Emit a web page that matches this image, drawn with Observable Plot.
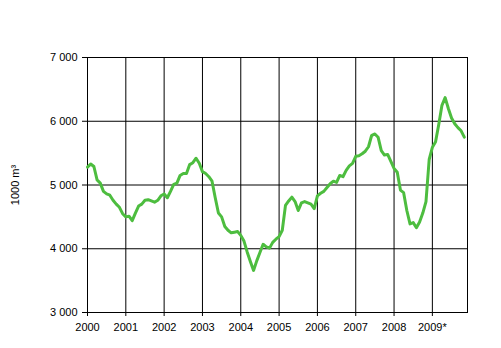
<!DOCTYPE html>
<html>
<head>
<meta charset="utf-8">
<script src="https://cdn.jsdelivr.net/npm/d3@7"></script>
<script src="https://cdn.jsdelivr.net/npm/@observablehq/plot@0.6"></script>
<style>
  html, body { margin: 0; padding: 0; background: #fff; }
  svg { display: block; }
</style>
</head>
<body>
<div id="chart"></div>
<script>
const startYear = 2000;
const yearTicks = [2000, 2001, 2002, 2003, 2004, 2005, 2006, 2007, 2008, 2009];
const yearLabels = ["2000", "2001", "2002", "2003", "2004", "2005", "2006", "2007", "2008", "2009*"];
const yTicks = [3000, 4000, 5000, 6000, 7000];
const yLabel = "1000 m³";
// Monthly values, Jan 2000 – Nov 2009 (1000 m3)
const values = [
  5280, 5330, 5290, 5080, 5030, 4900, 4860, 4840, 4760, 4700, 4650, 4550,
  4500, 4510, 4440, 4560, 4670, 4700, 4760, 4770, 4750, 4730, 4760, 4830,
  4860, 4800, 4900, 5010, 5030, 5150, 5180, 5180, 5320, 5350, 5420, 5340,
  5210, 5180, 5130, 5060, 4800, 4560, 4500, 4350, 4290, 4250, 4260, 4270,
  4210, 4120, 3950, 3800, 3660, 3810, 3940, 4070, 4030, 4010, 4100, 4150,
  4190, 4290, 4680, 4750, 4810, 4740, 4600, 4720, 4740, 4720, 4700, 4630,
  4830, 4870, 4900, 4960, 5020, 5060, 5040, 5150, 5130, 5230, 5300, 5340,
  5450, 5460, 5490, 5530, 5600, 5780, 5800, 5750, 5540, 5470, 5480, 5370,
  5260, 5200, 4920, 4880, 4600, 4390, 4410, 4330, 4420, 4560, 4740, 5400,
  5590, 5680, 5950, 6250, 6370, 6200, 6050, 5960, 5900, 5850, 5750
];

const data = values.map((v, i) => ({t: startYear + i / 12, v}));
const fmtY = d => d3.format(",")(d).replace(/,/g, " ");
const fmtX = d => yearLabels[yearTicks.indexOf(d)];

const chart = Plot.plot({
  width: 501,
  height: 348,
  marginLeft: 87,
  marginRight: 34,
  marginTop: 57,
  marginBottom: 36,
  style: {fontFamily: "Arial, 'Liberation Sans', sans-serif", fontSize: "11px", color: "#000", background: "#fff"},
  x: {domain: [2000, 2009 + 11 / 12]},
  y: {domain: [3000, 7000]},
  marks: [
    Plot.gridX(yearTicks, {stroke: "#000", strokeOpacity: 1, strokeWidth: 1}),
    Plot.gridY(yTicks, {stroke: "#000", strokeOpacity: 1, strokeWidth: 1}),
    Plot.frame({stroke: "#000", strokeWidth: 1}),
    Plot.axisX(yearTicks, {tickFormat: fmtX, tickSize: 4, tickPadding: 7, label: null, stroke: "#000", fontSize: 11}),
    Plot.axisY(yTicks, {tickFormat: fmtY, tickSize: 5, tickPadding: 5, label: yLabel, labelAnchor: "center", labelArrow: "none", labelOffset: 76, stroke: "#000", fontSize: 11}),
    Plot.line(data, {x: "t", y: "v", stroke: "#4dbd3f", strokeWidth: 3, strokeLinejoin: "round"})
  ]
});
document.getElementById("chart").appendChild(chart);
</script>
</body>
</html>
